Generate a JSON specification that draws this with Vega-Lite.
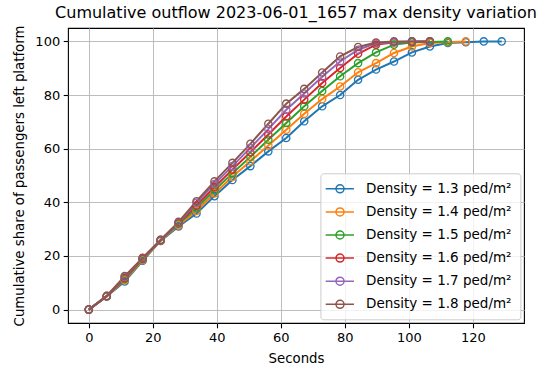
{
  "$schema": "https://vega.github.io/schema/vega-lite/v6.json",
  "width": 456,
  "height": 295,
  "autosize": {"type": "none"},
  "padding": {"left": 68, "top": 28, "right": 23, "bottom": 46},
  "title": {"text": "Cumulative outflow 2023-06-01_1657 max density variation", "font": "DejaVu Sans", "fontSize": 16, "fontWeight": "normal", "color": "#000000", "anchor": "middle", "baseline": "alphabetic", "offset": 8.6, "dy": 17.4},
  "data": {"values": [
    {"t": 0, "share": 0, "series": "Density = 1.3 ped/m²"},
    {"t": 5.61, "share": 4.9, "series": "Density = 1.3 ped/m²"},
    {"t": 11.22, "share": 10.5, "series": "Density = 1.3 ped/m²"},
    {"t": 16.83, "share": 18.2, "series": "Density = 1.3 ped/m²"},
    {"t": 22.44, "share": 25.6, "series": "Density = 1.3 ped/m²"},
    {"t": 28.05, "share": 31.0, "series": "Density = 1.3 ped/m²"},
    {"t": 33.66, "share": 35.8, "series": "Density = 1.3 ped/m²"},
    {"t": 39.27, "share": 42.3, "series": "Density = 1.3 ped/m²"},
    {"t": 44.88, "share": 48.3, "series": "Density = 1.3 ped/m²"},
    {"t": 50.49, "share": 53.5, "series": "Density = 1.3 ped/m²"},
    {"t": 56.1, "share": 59.0, "series": "Density = 1.3 ped/m²"},
    {"t": 61.71, "share": 64.0, "series": "Density = 1.3 ped/m²"},
    {"t": 67.32, "share": 70.2, "series": "Density = 1.3 ped/m²"},
    {"t": 72.93, "share": 75.8, "series": "Density = 1.3 ped/m²"},
    {"t": 78.54, "share": 80.0, "series": "Density = 1.3 ped/m²"},
    {"t": 84.15, "share": 85.7, "series": "Density = 1.3 ped/m²"},
    {"t": 89.76, "share": 89.5, "series": "Density = 1.3 ped/m²"},
    {"t": 95.37, "share": 92.5, "series": "Density = 1.3 ped/m²"},
    {"t": 100.98, "share": 95.9, "series": "Density = 1.3 ped/m²"},
    {"t": 106.59, "share": 98.1, "series": "Density = 1.3 ped/m²"},
    {"t": 112.2, "share": 99.4, "series": "Density = 1.3 ped/m²"},
    {"t": 117.81, "share": 99.7, "series": "Density = 1.3 ped/m²"},
    {"t": 123.42, "share": 100, "series": "Density = 1.3 ped/m²"},
    {"t": 129.03, "share": 100, "series": "Density = 1.3 ped/m²"},

    {"t": 0, "share": 0, "series": "Density = 1.4 ped/m²"},
    {"t": 5.61, "share": 5.0, "series": "Density = 1.4 ped/m²"},
    {"t": 11.22, "share": 11.0, "series": "Density = 1.4 ped/m²"},
    {"t": 16.83, "share": 18.5, "series": "Density = 1.4 ped/m²"},
    {"t": 22.44, "share": 25.7, "series": "Density = 1.4 ped/m²"},
    {"t": 28.05, "share": 31.5, "series": "Density = 1.4 ped/m²"},
    {"t": 33.66, "share": 36.8, "series": "Density = 1.4 ped/m²"},
    {"t": 39.27, "share": 43.3, "series": "Density = 1.4 ped/m²"},
    {"t": 44.88, "share": 49.5, "series": "Density = 1.4 ped/m²"},
    {"t": 50.49, "share": 55.3, "series": "Density = 1.4 ped/m²"},
    {"t": 56.1, "share": 61.2, "series": "Density = 1.4 ped/m²"},
    {"t": 61.71, "share": 67.1, "series": "Density = 1.4 ped/m²"},
    {"t": 67.32, "share": 73.0, "series": "Density = 1.4 ped/m²"},
    {"t": 72.93, "share": 78.5, "series": "Density = 1.4 ped/m²"},
    {"t": 78.54, "share": 83.2, "series": "Density = 1.4 ped/m²"},
    {"t": 84.15, "share": 88.5, "series": "Density = 1.4 ped/m²"},
    {"t": 89.76, "share": 91.9, "series": "Density = 1.4 ped/m²"},
    {"t": 95.37, "share": 95.7, "series": "Density = 1.4 ped/m²"},
    {"t": 100.98, "share": 98.1, "series": "Density = 1.4 ped/m²"},
    {"t": 106.59, "share": 99.4, "series": "Density = 1.4 ped/m²"},
    {"t": 112.2, "share": 99.7, "series": "Density = 1.4 ped/m²"},
    {"t": 117.81, "share": 100, "series": "Density = 1.4 ped/m²"},

    {"t": 0, "share": 0, "series": "Density = 1.5 ped/m²"},
    {"t": 5.61, "share": 5.0, "series": "Density = 1.5 ped/m²"},
    {"t": 11.22, "share": 11.4, "series": "Density = 1.5 ped/m²"},
    {"t": 16.83, "share": 18.8, "series": "Density = 1.5 ped/m²"},
    {"t": 22.44, "share": 25.8, "series": "Density = 1.5 ped/m²"},
    {"t": 28.05, "share": 32.0, "series": "Density = 1.5 ped/m²"},
    {"t": 33.66, "share": 37.8, "series": "Density = 1.5 ped/m²"},
    {"t": 39.27, "share": 44.5, "series": "Density = 1.5 ped/m²"},
    {"t": 44.88, "share": 50.8, "series": "Density = 1.5 ped/m²"},
    {"t": 50.49, "share": 57.0, "series": "Density = 1.5 ped/m²"},
    {"t": 56.1, "share": 63.3, "series": "Density = 1.5 ped/m²"},
    {"t": 61.71, "share": 69.6, "series": "Density = 1.5 ped/m²"},
    {"t": 67.32, "share": 75.8, "series": "Density = 1.5 ped/m²"},
    {"t": 72.93, "share": 81.5, "series": "Density = 1.5 ped/m²"},
    {"t": 78.54, "share": 87.0, "series": "Density = 1.5 ped/m²"},
    {"t": 84.15, "share": 91.9, "series": "Density = 1.5 ped/m²"},
    {"t": 89.76, "share": 95.9, "series": "Density = 1.5 ped/m²"},
    {"t": 95.37, "share": 98.8, "series": "Density = 1.5 ped/m²"},
    {"t": 100.98, "share": 99.6, "series": "Density = 1.5 ped/m²"},
    {"t": 106.59, "share": 99.8, "series": "Density = 1.5 ped/m²"},
    {"t": 112.2, "share": 100, "series": "Density = 1.5 ped/m²"},

    {"t": 0, "share": 0, "series": "Density = 1.6 ped/m²"},
    {"t": 5.61, "share": 5.0, "series": "Density = 1.6 ped/m²"},
    {"t": 11.22, "share": 11.8, "series": "Density = 1.6 ped/m²"},
    {"t": 16.83, "share": 19.0, "series": "Density = 1.6 ped/m²"},
    {"t": 22.44, "share": 25.9, "series": "Density = 1.6 ped/m²"},
    {"t": 28.05, "share": 32.3, "series": "Density = 1.6 ped/m²"},
    {"t": 33.66, "share": 38.8, "series": "Density = 1.6 ped/m²"},
    {"t": 39.27, "share": 45.6, "series": "Density = 1.6 ped/m²"},
    {"t": 44.88, "share": 52.2, "series": "Density = 1.6 ped/m²"},
    {"t": 50.49, "share": 58.7, "series": "Density = 1.6 ped/m²"},
    {"t": 56.1, "share": 65.3, "series": "Density = 1.6 ped/m²"},
    {"t": 61.71, "share": 72.0, "series": "Density = 1.6 ped/m²"},
    {"t": 67.32, "share": 78.3, "series": "Density = 1.6 ped/m²"},
    {"t": 72.93, "share": 84.5, "series": "Density = 1.6 ped/m²"},
    {"t": 78.54, "share": 90.1, "series": "Density = 1.6 ped/m²"},
    {"t": 84.15, "share": 95.4, "series": "Density = 1.6 ped/m²"},
    {"t": 89.76, "share": 98.8, "series": "Density = 1.6 ped/m²"},
    {"t": 95.37, "share": 99.6, "series": "Density = 1.6 ped/m²"},
    {"t": 100.98, "share": 99.9, "series": "Density = 1.6 ped/m²"},
    {"t": 106.59, "share": 100, "series": "Density = 1.6 ped/m²"},

    {"t": 0, "share": 0, "series": "Density = 1.7 ped/m²"},
    {"t": 5.61, "share": 5.1, "series": "Density = 1.7 ped/m²"},
    {"t": 11.22, "share": 12.2, "series": "Density = 1.7 ped/m²"},
    {"t": 16.83, "share": 19.2, "series": "Density = 1.7 ped/m²"},
    {"t": 22.44, "share": 26.0, "series": "Density = 1.7 ped/m²"},
    {"t": 28.05, "share": 32.5, "series": "Density = 1.7 ped/m²"},
    {"t": 33.66, "share": 39.8, "series": "Density = 1.7 ped/m²"},
    {"t": 39.27, "share": 46.8, "series": "Density = 1.7 ped/m²"},
    {"t": 44.88, "share": 53.5, "series": "Density = 1.7 ped/m²"},
    {"t": 50.49, "share": 60.3, "series": "Density = 1.7 ped/m²"},
    {"t": 56.1, "share": 67.3, "series": "Density = 1.7 ped/m²"},
    {"t": 61.71, "share": 74.5, "series": "Density = 1.7 ped/m²"},
    {"t": 67.32, "share": 80.6, "series": "Density = 1.7 ped/m²"},
    {"t": 72.93, "share": 86.8, "series": "Density = 1.7 ped/m²"},
    {"t": 78.54, "share": 92.5, "series": "Density = 1.7 ped/m²"},
    {"t": 84.15, "share": 96.9, "series": "Density = 1.7 ped/m²"},
    {"t": 89.76, "share": 99.3, "series": "Density = 1.7 ped/m²"},
    {"t": 95.37, "share": 99.7, "series": "Density = 1.7 ped/m²"},
    {"t": 100.98, "share": 100, "series": "Density = 1.7 ped/m²"},
    {"t": 106.59, "share": 100, "series": "Density = 1.7 ped/m²"},

    {"t": 0, "share": 0, "series": "Density = 1.8 ped/m²"},
    {"t": 5.61, "share": 5.1, "series": "Density = 1.8 ped/m²"},
    {"t": 11.22, "share": 12.5, "series": "Density = 1.8 ped/m²"},
    {"t": 16.83, "share": 19.3, "series": "Density = 1.8 ped/m²"},
    {"t": 22.44, "share": 26.0, "series": "Density = 1.8 ped/m²"},
    {"t": 28.05, "share": 32.7, "series": "Density = 1.8 ped/m²"},
    {"t": 33.66, "share": 40.4, "series": "Density = 1.8 ped/m²"},
    {"t": 39.27, "share": 47.8, "series": "Density = 1.8 ped/m²"},
    {"t": 44.88, "share": 54.7, "series": "Density = 1.8 ped/m²"},
    {"t": 50.49, "share": 61.8, "series": "Density = 1.8 ped/m²"},
    {"t": 56.1, "share": 69.3, "series": "Density = 1.8 ped/m²"},
    {"t": 61.71, "share": 76.8, "series": "Density = 1.8 ped/m²"},
    {"t": 67.32, "share": 82.3, "series": "Density = 1.8 ped/m²"},
    {"t": 72.93, "share": 88.4, "series": "Density = 1.8 ped/m²"},
    {"t": 78.54, "share": 94.4, "series": "Density = 1.8 ped/m²"},
    {"t": 84.15, "share": 97.9, "series": "Density = 1.8 ped/m²"},
    {"t": 89.76, "share": 99.6, "series": "Density = 1.8 ped/m²"},
    {"t": 95.37, "share": 100, "series": "Density = 1.8 ped/m²"},
    {"t": 100.98, "share": 100, "series": "Density = 1.8 ped/m²"},
    {"t": 106.59, "share": 100, "series": "Density = 1.8 ped/m²"}
  ]},
  "encoding": {
    "x": {"field": "t", "type": "quantitative", "scale": {"domain": [-6.5, 136], "nice": false, "zero": false},
      "axis": {"values": [0, 20, 40, 60, 80, 100, 120], "title": "Seconds", "format": "d"}},
    "y": {"field": "share", "type": "quantitative", "scale": {"domain": [-5, 105], "nice": false, "zero": false},
      "axis": {"values": [0, 20, 40, 60, 80, 100], "title": "Cumulative share of passengers left platform", "format": "d"}},
    "color": {"field": "series", "type": "nominal",
      "scale": {"range": ["#1f77b4", "#ff7f0e", "#2ca02c", "#d62728", "#9467bd", "#8c564b"]},
      "legend": {"title": null, "orient": "none", "legendX": 252.4, "legendY": 145.3,
        "symbolType": "M-1.57,0H2.78M1.245,0A0.615,0.615 0 1,1 0.015,0A0.615,0.615 0 1,1 1.245,0",
        "symbolSize": 169, "symbolStrokeWidth": 1.5, "symbolFillColor": "transparent",
        "labelOffset": 22.6, "rowPadding": 8.1, "padding": 8,
        "labelFont": "DejaVu Sans", "labelFontSize": 13.5, "labelColor": "#000000", "labelLimit": 300,
        "fillColor": "rgba(255,255,255,0.8)", "strokeColor": "#cccccc", "cornerRadius": 3}}
  },
  "layer": [
    {"mark": {"type": "line", "strokeWidth": 2}},
    {"mark": {"type": "point", "filled": false, "size": 53, "strokeWidth": 1.3, "opacity": 1, "shape": "circle"}}
  ],
  "config": {
    "view": {"stroke": "#000000", "strokeWidth": 1.1},
    "axis": {"domain": false, "grid": true, "gridColor": "#bdbdbd", "gridWidth": 1, "tickColor": "#000000", "tickSize": 4.8, "tickWidth": 1.1,
      "labelFont": "DejaVu Sans", "labelFontSize": 13, "labelColor": "#000000", "labelPadding": 3.5,
      "titleFont": "DejaVu Sans", "titleFontSize": 13.3, "titleFontWeight": "normal", "titleColor": "#000000"},
    "axisX": {"titlePadding": 7},
    "axisY": {"titlePadding": 8}
  }
}
